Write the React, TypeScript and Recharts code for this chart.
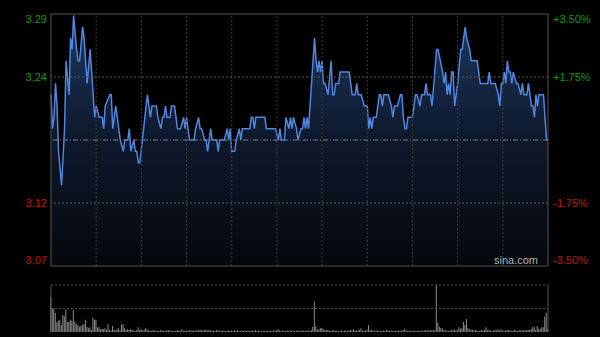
import React from "react";
import { ComposedChart, Area, Line, BarChart, Bar, XAxis, YAxis, ReferenceLine, ReferenceArea } from "recharts";

// previous close, percent scale levels, half-hour grid
const prevClose = 3.18;
const pctLevels = [-3.5, -1.75, 1.75, 3.5];
const gridMinutes = [30, 60, 90, 120, 150, 180, 210, 240, 270, 300];

// intraday price, minute index -> price
const priceMinutes = [
  0, 1, 2, 3, 4, 5, 7, 9, 10, 12, 13, 14, 15, 17, 18, 19, 21, 22, 24, 26, 28, 29, 30, 32, 34, 35, 36, 39, 40, 41,
  43, 46, 48, 49, 51, 52, 53, 55, 56, 57, 58, 59, 64, 66, 67, 70, 71, 73, 74, 75, 76, 77, 79, 80, 82, 84, 86, 88,
  89, 90, 92, 95, 96, 98, 99, 100, 102, 103, 104, 106, 107, 110, 111, 112, 115, 117, 118, 119, 120, 122, 123, 125,
  126, 127, 132, 133, 134, 135, 136, 142, 143, 149, 151, 152, 153, 155, 156, 158, 159, 160, 161, 163, 164, 166,
  167, 168, 169, 170, 171, 172, 175, 176, 177, 178, 179, 180, 181, 182, 184, 186, 187, 188, 189, 191, 192, 198,
  200, 202, 203, 204, 206, 208, 210, 211, 212, 213, 214, 216, 218, 219, 220, 221, 224, 226, 227, 228, 230, 232,
  233, 234, 235, 236, 237, 240, 242, 243, 245, 246, 248, 249, 250, 252, 253, 256, 257, 260, 261, 262, 263, 264,
  265, 266, 267, 268, 270, 272, 273, 275, 276, 278, 279, 283, 285, 290, 291, 292, 295, 297, 298, 299, 300, 301,
  302, 303, 304, 305, 306, 307, 309, 310, 312, 313, 314, 316, 317, 318, 319, 320, 321, 322, 323, 324, 327, 328,
  329, 330,
];
const prices = [
  3.22, 3.19, 3.2, 3.23, 3.21, 3.17, 3.14, 3.19, 3.25, 3.22, 3.27, 3.26, 3.29, 3.26, 3.25, 3.25, 3.28, 3.27, 3.23,
  3.26, 3.22, 3.2, 3.21, 3.2, 3.2, 3.19, 3.21, 3.22, 3.22, 3.19,
  3.21, 3.18, 3.17, 3.18, 3.18, 3.19, 3.17, 3.18, 3.17, 3.17, 3.16, 3.16, 3.22, 3.2, 3.21, 3.21, 3.2, 3.19, 3.2,
  3.2, 3.21, 3.2, 3.2, 3.21, 3.21, 3.19, 3.19, 3.2,
  3.19, 3.2, 3.18, 3.18, 3.19, 3.2, 3.19, 3.19, 3.18, 3.18, 3.17, 3.19, 3.18, 3.18, 3.17, 3.18, 3.18, 3.19, 3.18,
  3.19, 3.17, 3.17, 3.18, 3.19,
  3.18, 3.19, 3.19, 3.2, 3.2, 3.19, 3.2, 3.2, 3.19, 3.19, 3.18, 3.19, 3.18, 3.18, 3.2, 3.19, 3.2, 3.19, 3.2, 3.19,
  3.18, 3.19,
  3.19, 3.2, 3.19, 3.2, 3.19, 3.21, 3.27, 3.25, 3.24, 3.25, 3.24, 3.25, 3.23, 3.23, 3.22, 3.25, 3.22, 3.22, 3.23,
  3.23, 3.24, 3.24,
  3.22, 3.22, 3.23, 3.22, 3.22, 3.21, 3.21, 3.19, 3.2, 3.19, 3.2, 3.2, 3.22, 3.22, 3.21, 3.22, 3.22, 3.21, 3.2,
  3.21, 3.21, 3.22,
  3.22, 3.2, 3.19, 3.19, 3.2, 3.2, 3.22, 3.22, 3.21, 3.22, 3.22, 3.23, 3.22, 3.22, 3.21, 3.26, 3.26, 3.24, 3.23,
  3.24, 3.22, 3.23,
  3.22, 3.24, 3.24, 3.21, 3.23, 3.26, 3.26, 3.28, 3.27, 3.26, 3.25, 3.25, 3.23, 3.23, 3.24, 3.23, 3.23, 3.22, 3.21,
  3.23, 3.23, 3.24,
  3.23, 3.25, 3.24, 3.24, 3.23, 3.24, 3.23, 3.23, 3.22, 3.23, 3.22, 3.22, 3.23, 3.22, 3.21, 3.21, 3.2, 3.22, 3.21,
  3.22, 3.22, 3.2,
  3.18, 3.18,
];

// volume per minute, relative units (max spike = 100)
const volumes = [
  74, 50, 50, 41, 20, 24, 26, 15, 36, 33,
  48, 22, 22, 26, 24, 47, 22, 18, 15, 11,
  13, 15, 17, 26, 11, 8, 10, 4, 31, 26,
  26, 10, 10, 6, 7, 6, 8, 4, 17, 4,
  3, 13, 4, 3, 6, 8, 3, 15, 17, 8,
  4, 6, 4, 6, 4, 3, 2, 3, 10, 4,
  6, 3, 4, 8, 6, 3, 3, 2, 4, 3,
  2, 3, 2, 4, 3, 2, 2, 3, 5, 3,
  2, 3, 2, 2, 4, 3, 2, 6, 3, 2,
  3, 2, 4, 3, 2, 3, 2, 5, 3, 4,
  5, 3, 4, 5, 3, 4, 3, 2, 3, 2,
  4, 3, 2, 3, 2, 3, 2, 2, 3, 2,
  3, 2, 4, 2, 3, 2, 2, 3, 2, 3,
  2, 3, 2, 2, 3, 2, 4, 2, 3, 2,
  2, 3, 2, 3, 2, 2, 3, 2, 3, 2,
  4, 6, 3, 2, 3, 2, 2, 3, 2, 3,
  2, 3, 2, 2, 3, 2, 2, 3, 2, 2,
  3, 3, 2, 4, 11, 65, 13, 5, 6, 8,
  9, 6, 4, 5, 4, 3, 2, 3, 4, 2,
  3, 2, 2, 3, 2, 3, 2, 2, 3, 4,
  3, 6, 3, 2, 3, 4, 8, 3, 2, 3,
  4, 15, 3, 4, 3, 2, 3, 2, 3, 2,
  2, 3, 2, 4, 3, 2, 3, 2, 2, 3,
  2, 3, 2, 3, 4, 7, 3, 2, 3, 2,
  2, 3, 2, 2, 3, 2, 3, 2, 3, 4,
  3, 4, 3, 4, 4, 3, 100, 20, 11, 8,
  8, 4, 3, 3, 2, 3, 4, 3, 6, 3,
  4, 10, 7, 8, 22, 15, 27, 8, 6, 4,
  4, 3, 4, 3, 2, 3, 4, 3, 4, 10,
  3, 4, 3, 2, 3, 4, 3, 6, 3, 6,
  3, 2, 3, 4, 4, 3, 2, 3, 4, 3,
  2, 4, 3, 3, 4, 3, 4, 5, 4, 6,
  10, 11, 5, 13, 7, 6, 10, 10, 33, 41,
  6,
];

const priceData = priceMinutes.map((m, i) => ({
  m,
  p: prices[i],
  pct: (prices[i] / prevClose - 1) * 100,
}));
const volumeData = volumes.map((v, i) => ({ m: i, v }));

const lo = prevClose * (1 + pctLevels[0] / 100);
const hi = prevClose * (1 + pctLevels[3] / 100);
const priceTicks = pctLevels.map((p) => prevClose * (1 + p / 100));

const UP = "#0c9c0c";
const DOWN = "#c81400";
const FONT = "'Liberation Sans', Arial, sans-serif";

function edgeShift(pct: number) {
  if (pct > 3) return 5;
  if (pct < -3) return -6;
  return 0;
}

const LeftTick = (props: any) => {
  const { x, y, payload } = props;
  const pct = (payload.value / prevClose - 1) * 100;
  return (
    <text x={x} y={y + edgeShift(pct)} dy="0.35em" textAnchor="end" fill={pct > 0 ? UP : DOWN} fontSize={11} fontFamily={FONT}>
      {payload.value.toFixed(2)}
    </text>
  );
};

const RightTick = (props: any) => {
  const { x, y, payload } = props;
  const v = payload.value;
  return (
    <text x={x} y={y + edgeShift(v)} dy="0.35em" textAnchor="start" fill={v > 0 ? UP : DOWN} fontSize={11} fontFamily={FONT}>
      {(v > 0 ? "+" : "") + v.toFixed(2) + "%"}
    </text>
  );
};

export default function App() {
  return (
    <div style={{ position: "absolute", left: 0, top: 0, width: 600, height: 337, background: "#000", overflow: "hidden" }}>
      <ComposedChart width={600} height={270} data={priceData} margin={{ top: 14, right: 0, bottom: 4, left: 0 }}>
        <defs>
          <linearGradient id="priceFill" x1="0" y1="0" x2="0" y2="1">
            <stop offset="0%" stopColor="#1e3862" />
            <stop offset="45%" stopColor="#0f1b30" />
            <stop offset="100%" stopColor="#05070b" />
          </linearGradient>
        </defs>
        <XAxis dataKey="m" type="number" domain={[0, 330]} hide />
        <YAxis
          yAxisId="price"
          domain={[lo, hi]}
          ticks={priceTicks}
          interval={0}
          width={51}
          axisLine={false}
          tickLine={false}
          tickSize={0}
          tickMargin={4}
          tick={<LeftTick />}
          allowDataOverflow
        />
        <YAxis
          yAxisId="pct"
          orientation="right"
          domain={[pctLevels[0], pctLevels[3]]}
          ticks={pctLevels}
          interval={0}
          width={52}
          axisLine={false}
          tickLine={false}
          tickSize={0}
          tickMargin={5}
          tick={<RightTick />}
          allowDataOverflow
        />
        {gridMinutes.map((m) => (
          <ReferenceLine key={m} yAxisId="price" x={m} stroke="#3c3c3c" strokeDasharray="2 2" />
        ))}
        <ReferenceLine yAxisId="pct" y={pctLevels[1]} stroke="#5a5a5a" strokeDasharray="2 2" />
        <ReferenceLine yAxisId="pct" y={pctLevels[2]} stroke="#5a5a5a" strokeDasharray="2 2" />
        <Area
          yAxisId="price"
          type="linear"
          dataKey="p"
          stroke="#4f86e0"
          strokeWidth={1.5}
          fill="url(#priceFill)"
          fillOpacity={1}
          baseValue={lo}
          isAnimationActive={false}
          dot={false}
          activeDot={false}
        />
        {/* percent twin of the price, invisible: keeps the right axis alive */}
        <Line
          yAxisId="pct"
          type="linear"
          dataKey="pct"
          stroke="transparent"
          dot={false}
          activeDot={false}
          isAnimationActive={false}
        />
        <ReferenceLine yAxisId="pct" y={0} stroke="#7a7a7a" strokeDasharray="5 2 1 2" />
        <ReferenceArea yAxisId="price" x1={0} x2={330} y1={lo} y2={hi} fill="none" stroke="#555" ifOverflow="visible" />
      </ComposedChart>
      <BarChart width={600} height={67} data={volumeData} margin={{ top: 15, right: 52, bottom: 5, left: 51 }}>
        <XAxis dataKey="m" type="number" domain={[0, 330]} hide />
        <YAxis domain={[0, 100]} hide />
        <ReferenceLine y={100} stroke="#555" strokeDasharray="2 2" />
        <ReferenceLine y={50} stroke="#555" strokeDasharray="2 2" />
        <ReferenceLine x={0} stroke="#555" />
        <ReferenceLine x={330} stroke="#555" />
        <Bar dataKey="v" fill="#8c8c8c" barSize={1} isAnimationActive={false} />
      </BarChart>
      <div
        style={{
          position: "absolute",
          top: 255,
          right: 62,
          fontSize: 11,
          lineHeight: "11px",
          color: "#b0b0b0",
          fontFamily: FONT,
        }}
      >
        sina.com
      </div>
    </div>
  );
}
